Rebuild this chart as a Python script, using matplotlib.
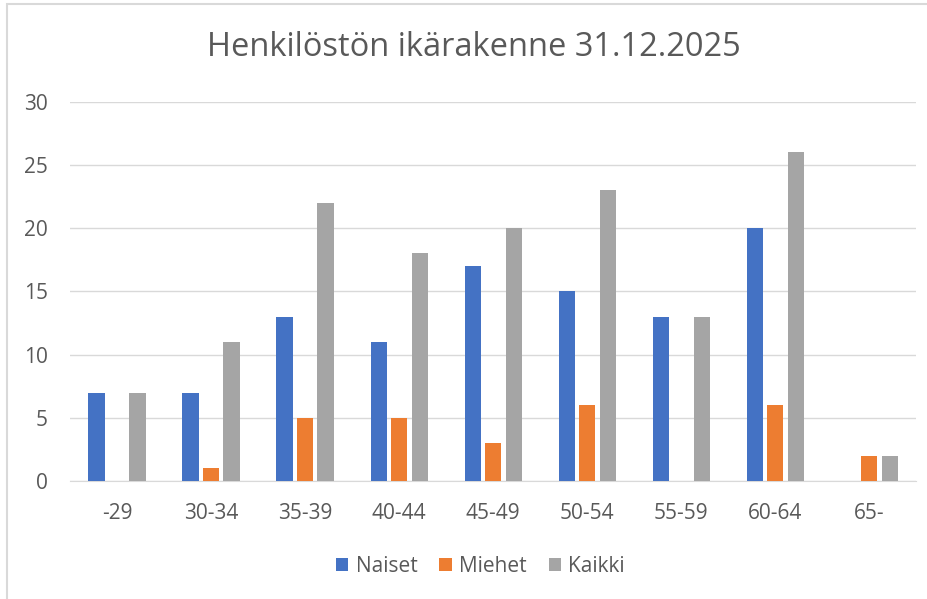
import numpy as np
import matplotlib.pyplot as plt
from matplotlib.patches import Rectangle

categories = ["-29", "30-34", "35-39", "40-44", "45-49", "50-54", "55-59", "60-64", "65-"]
naiset = [7, 7, 13, 11, 17, 15, 13, 20, 0]
miehet = [0, 1, 5, 5, 3, 6, 0, 6, 2]
kaikki = [7, 11, 22, 18, 20, 23, 13, 26, 2]
series = [("Naiset", naiset, "#4472C4"), ("Miehet", miehet, "#ED7D31"), ("Kaikki", kaikki, "#A5A5A5")]

plt.rcParams['font.family'] = ['Open Sans', 'DejaVu Sans']
txt = "#595959"

fig = plt.figure(figsize=(9.28, 5.99), dpi=100)
ax = fig.add_axes([0.0754, 0.197, 0.912, 0.633])

x = np.arange(len(categories))
w = 0.172
step = 0.218
for i, (name, vals, col) in enumerate(series):
    ax.bar(x + (i - 1) * step, vals, width=w, color=col, label=name, zorder=3)

ax.set_xlim(-0.5, len(categories) - 0.5)
ax.set_ylim(0, 30)
ax.set_yticks(range(0, 31, 5))
ax.set_xticks(x)
ax.set_xticklabels(categories)
ax.grid(axis='y', color="#D9D9D9", linewidth=1, zorder=0)
for s in ["top", "right", "left"]:
    ax.spines[s].set_visible(False)
ax.spines["bottom"].set_color("#D9D9D9")
ax.tick_params(axis='both', length=0, labelsize=15, colors=txt)
ax.tick_params(axis='x', pad=16)
ax.tick_params(axis='y', pad=16)

fig.text(0.511, 0.921, "Henkilöstön ikärakenne 31.12.2025", ha='center', va='center',
         fontsize=23.5, color=txt)

ax.legend(loc='center', bbox_to_anchor=(0.485, -0.225), ncol=3, frameon=False,
          fontsize=15, labelcolor=txt, handlelength=0.6, handleheight=0.6,
          handletextpad=0.35, columnspacing=1.05)

fig.patches.append(Rectangle((7 / 928, -0.1), 1.2, 1.1 - 4 / 599, transform=fig.transFigure,
                             fill=False, edgecolor="#D9D9D9", linewidth=1.5))

fig.savefig("out.png", dpi=100)
